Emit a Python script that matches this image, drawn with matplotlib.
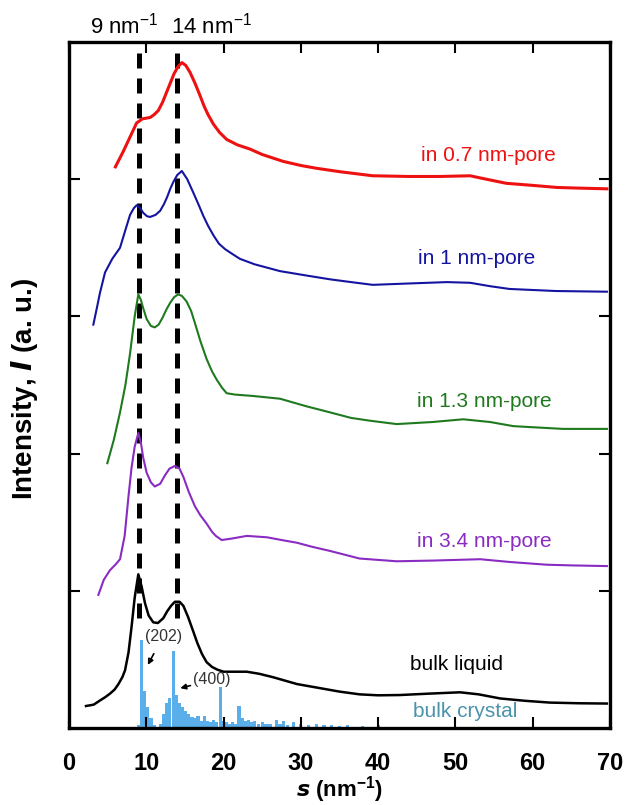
import matplotlib
matplotlib.use('Agg')
import matplotlib.pyplot as plt

plt.rcParams['font.family'] = ['Liberation Sans', 'DejaVu Sans']
plt.rcParams['mathtext.fontset'] = 'custom'
plt.rcParams['mathtext.rm'] = 'Liberation Sans'
plt.rcParams['mathtext.it'] = 'Liberation Sans:italic'
plt.rcParams['mathtext.bf'] = 'Liberation Sans:bold'

# ---- data (s in nm^-1, intensity offset, a.u.) ----
s_07 = [6.0, 7.0, 8.0, 8.75, 9.5, 10.5, 11.0, 11.55, 12.1, 12.6, 13.1, 13.6, 14.1, 14.6, 15.1,
        15.65, 16.3, 16.95, 17.5, 18.0, 18.7, 19.5, 20.4, 21.8, 23.4, 25.0, 27.7, 30.0,
        32.0, 35.0, 39.3, 44.0, 48.0, 51.9, 54.0, 56.6, 60.0, 63.1, 66.0, 69.6]
I_07 = [4.09, 4.20, 4.32, 4.41, 4.44, 4.45, 4.47, 4.50, 4.56, 4.63, 4.70, 4.77, 4.82, 4.85, 4.83,
        4.78, 4.70, 4.61, 4.53, 4.47, 4.40, 4.34, 4.29, 4.25, 4.22, 4.18, 4.13, 4.10,
        4.08, 4.055, 4.025, 4.02, 4.02, 4.025, 4.00, 3.97, 3.955, 3.94, 3.935, 3.93]

s_1 = [3.15, 3.6, 4.0, 4.66, 5.6, 6.6, 7.3, 7.9, 8.4, 8.75, 9.2, 9.6, 10.1, 10.5, 11.2, 11.8,
       12.3, 12.7, 13.1, 13.5, 14.0, 14.6, 15.3, 16.1, 16.8, 17.4, 18.0, 18.7, 19.4, 20.2,
       21.0, 22.1, 24.0, 27.3, 30.5, 33.8, 36.5, 39.3, 44.0, 48.9, 51.9, 54.5, 57.0, 63.0, 69.6]
I_1 = [2.94, 3.06, 3.17, 3.32, 3.42, 3.50, 3.63, 3.74, 3.79, 3.81, 3.79, 3.755, 3.73, 3.725, 3.74, 3.77,
       3.82, 3.87, 3.93, 3.98, 4.03, 4.06, 4.00, 3.90, 3.81, 3.73, 3.66, 3.59, 3.53, 3.49,
       3.46, 3.42, 3.38, 3.33, 3.30, 3.27, 3.25, 3.23, 3.24, 3.25, 3.245, 3.22, 3.20, 3.185, 3.18]

s_13 = [4.96, 5.8, 6.6, 7.3, 7.9, 8.5, 8.97, 9.3, 9.6, 10.05, 10.6, 11.1, 11.6, 12.1, 12.6, 13.1,
        13.6, 14.1, 14.6, 15.2, 15.8, 16.3, 17.0, 17.8, 18.5, 19.1, 19.8, 20.4, 21.5, 23.8,
        27.3, 30.7, 33.8, 36.5, 38.9, 42.4, 47.0, 51.0, 54.5, 57.5, 63.9, 69.6]
I_13 = [1.93, 2.10, 2.30, 2.50, 2.73, 3.00, 3.16, 3.12, 3.06, 2.98, 2.93, 2.92, 2.94, 2.99, 3.05, 3.10,
        3.14, 3.16, 3.15, 3.11, 3.04, 2.95, 2.82, 2.69, 2.60, 2.54, 2.48, 2.44, 2.43, 2.42,
        2.40, 2.345, 2.30, 2.26, 2.24, 2.215, 2.23, 2.25, 2.23, 2.20, 2.18, 2.18]

s_34 = [3.8, 4.5, 5.3, 6.0, 6.6, 7.2, 7.7, 8.1, 8.5, 8.97, 9.3, 9.6, 10.05, 10.6, 11.1, 11.8,
        12.4, 13.0, 13.7, 14.3, 14.8, 15.5, 16.3, 17.0, 17.8, 18.5, 19.0, 19.75, 21.0, 23.0,
        25.6, 27.5, 29.5, 31.5, 33.8, 37.6, 42.4, 47.0, 53.2, 57.0, 61.8, 65.0, 69.6]
I_34 = [0.97, 1.08, 1.15, 1.19, 1.23, 1.40, 1.69, 1.90, 2.05, 2.15, 2.08, 1.97, 1.86, 1.79, 1.76, 1.78,
        1.84, 1.89, 1.91, 1.89, 1.83, 1.72, 1.615, 1.55, 1.49, 1.43, 1.40, 1.37, 1.38, 1.40,
        1.39, 1.37, 1.35, 1.32, 1.29, 1.235, 1.215, 1.22, 1.23, 1.21, 1.19, 1.185, 1.18]

s_liq = [2.2, 3.2, 4.0, 4.7, 5.3, 5.9, 6.4, 6.9, 7.25, 7.7, 8.1, 8.5, 8.97, 9.4, 9.83, 10.3, 10.9,
         11.5, 12.2, 12.7, 13.2, 13.7, 14.3, 14.8, 15.4, 16.1, 16.6, 17.2, 17.8, 18.5, 19.2,
         20.0, 21.5, 23.0, 24.6, 26.4, 29.5, 32.5, 35.0, 37.6, 40.0, 42.8, 46.5, 50.6, 53.0,
         55.8, 59.0, 62.2, 66.0, 69.6]
I_liq = [0.16, 0.17, 0.20, 0.225, 0.25, 0.28, 0.32, 0.37, 0.42, 0.55, 0.74, 0.95, 1.12, 1.03, 0.91, 0.82,
         0.77, 0.765, 0.80, 0.85, 0.89, 0.92, 0.92, 0.89, 0.81, 0.70, 0.62, 0.54, 0.48, 0.445,
         0.425, 0.41, 0.41, 0.41, 0.395, 0.37, 0.32, 0.29, 0.265, 0.245, 0.238, 0.24, 0.25, 0.26,
         0.245, 0.215, 0.198, 0.185, 0.18, 0.178]

s_cry = [5.0, 6.0, 7.0, 8.0, 8.6, 9.0, 9.4, 9.8, 10.2, 10.6, 11.0, 11.4, 11.8, 12.2, 12.6, 13.0, 13.5,
         13.9, 14.3, 14.7, 15.1, 15.5, 15.9, 16.3, 16.7, 17.1, 17.5, 17.9, 18.3, 18.7, 19.1,
         19.6, 20.0, 20.4, 20.8, 21.2, 21.6, 22.0, 22.4, 22.8, 23.2, 23.6, 24.0, 24.5, 25.0,
         25.5, 26.0, 26.8, 27.3, 27.8, 28.3, 29.0, 30.0, 31.0, 32.0, 33.0, 34.0, 35.0, 36.0,
         38.0, 40.0, 42.0, 44.0, 46.0, 48.0, 50.0]
I_cry = [0.005, 0.01, 0.01, 0.01, 0.01, 0.02, 0.64, 0.27, 0.15, 0.07, 0.02, 0.01, 0.03, 0.10, 0.18, 0.22, 0.56,
         0.24, 0.18, 0.15, 0.12, 0.10, 0.08, 0.07, 0.09, 0.05, 0.09, 0.05, 0.04, 0.06, 0.04,
         0.30, 0.05, 0.04, 0.03, 0.04, 0.03, 0.16, 0.07, 0.05, 0.06, 0.04, 0.05, 0.03, 0.04,
         0.03, 0.03, 0.06, 0.03, 0.05, 0.02, 0.04, 0.03, 0.02, 0.03, 0.02, 0.02, 0.015, 0.02,
         0.015, 0.02, 0.01, 0.01, 0.01, 0.008, 0.008]

peak_pos = [9, 14]
x_ticks = [0, 10, 20, 30, 40, 50, 60, 70]
y_ticks = [1, 2, 3, 4]

fig = plt.figure(figsize=(6.25, 8.05), dpi=100)
ax = fig.add_axes([0.1104, 0.0957, 0.8656, 0.8521])

# crystal bars
ax.bar(s_cry, I_cry, width=0.42, color='#5aaeea', align='center', zorder=1)

# liquid / confined curves
ax.plot(s_liq, I_liq, color='black', lw=1.8, zorder=3)
ax.plot(s_34, I_34, color='#8a2bc2', lw=1.5, zorder=3)
ax.plot(s_13, I_13, color='#1f7a1f', lw=1.5, zorder=3)
ax.plot(s_1, I_1, color='#1414a0', lw=1.5, zorder=3)
ax.plot(s_07, I_07, color='#ee1111', lw=2.2, zorder=3)

# dashed guide lines
for p in peak_pos:
    ax.plot([p, p], [0.8, 5.0], color='black', lw=3.6, dashes=(3.0, 2.0), zorder=2)

# curve labels
fs_lab = 15
ax.text(54.2, 4.17, 'in 0.7 nm-pore', color='#ee1111', fontsize=fs_lab, ha='center', va='center')
ax.text(52.7, 3.42, 'in 1 nm-pore', color='#1414a0', fontsize=fs_lab, ha='center', va='center')
ax.text(53.8, 2.38, 'in 1.3 nm-pore', color='#1f7a1f', fontsize=fs_lab, ha='center', va='center')
ax.text(53.8, 1.36, 'in 3.4 nm-pore', color='#8a2bc2', fontsize=fs_lab, ha='center', va='center')
ax.text(50.2, 0.46, 'bulk liquid', color='black', fontsize=fs_lab, ha='center', va='center')
ax.text(51.2, 0.12, 'bulk crystal', color='#4a93ab', fontsize=fs_lab, ha='center', va='center')

# reflections
ax.annotate('(202)', xy=(10.2, 0.46), xytext=(12.2, 0.67), fontsize=11.5, color='#333333',
            ha='center', va='center',
            arrowprops=dict(arrowstyle='-|>', color='black', lw=1.2, mutation_scale=8,
                            shrinkA=6, shrinkB=0))
ax.annotate('(400)', xy=(14.4, 0.29), xytext=(18.5, 0.35), fontsize=11.5, color='#333333',
            ha='center', va='center',
            arrowprops=dict(arrowstyle='-|>', color='black', lw=1.2, mutation_scale=8,
                            shrinkA=13, shrinkB=0))

# peak positions above the frame
ax.text(7.2, 5.12, r'9 nm$^{-1}$', fontsize=16, ha='center', va='center', clip_on=False)
ax.text(18.4, 5.12, r'14 nm$^{-1}$', fontsize=16, ha='center', va='center', clip_on=False)

ax.set_xlim(0, 70)
ax.set_ylim(0, 5)
ax.set_xticks(x_ticks)
ax.set_yticks(y_ticks)
ax.set_yticklabels([])
ax.set_xticklabels([str(t) for t in x_ticks], fontsize=17, fontweight='bold')
ax.tick_params(direction='in', length=8, width=1.5, top=True, right=True, pad=17)
for sp in ax.spines.values():
    sp.set_linewidth(2.4)

ax.set_xlabel(r'$\mathbfit{s}$ (nm$^{\mathbf{-1}}$)', fontsize=16, fontweight='bold', labelpad=0)
ax.xaxis.set_label_coords(0.5, -0.067)
ax.set_ylabel(r'Intensity, $\mathbfit{I}$ (a. u.)', fontsize=20, fontweight='bold')
ax.yaxis.set_label_coords(-0.053, 0.495)

plt.savefig('out.png', dpi=100)
